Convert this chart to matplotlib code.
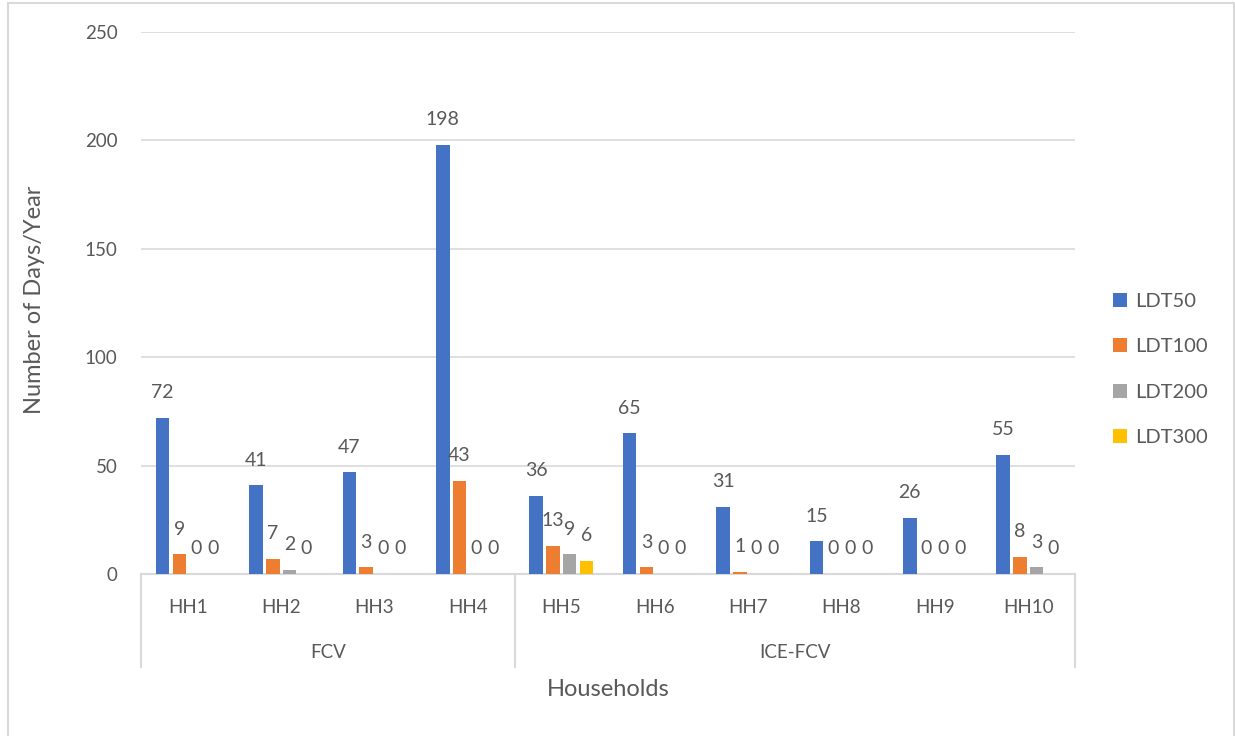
import numpy as np
import matplotlib.pyplot as plt
from matplotlib.patches import Rectangle, Patch

households = ['HH1', 'HH2', 'HH3', 'HH4', 'HH5', 'HH6', 'HH7', 'HH8', 'HH9', 'HH10']
groups = ['FCV', 'ICE-FCV']
group_sizes = [4, 6]

series_names = ['LDT50', 'LDT100', 'LDT200', 'LDT300']
ldt50 = [72, 41, 47, 198, 36, 65, 31, 15, 26, 55]
ldt100 = [9, 7, 3, 43, 13, 3, 1, 0, 0, 8]
ldt200 = [0, 2, 0, 0, 9, 0, 0, 0, 0, 3]
ldt300 = [0, 0, 0, 0, 6, 0, 0, 0, 0, 0]

colors = ['#4472C4', '#ED7D31', '#A5A5A5', '#FFC000']
text_color = '#595959'
line_color = '#D9D9D9'

plt.rcParams['font.family'] = ['Lato', 'DejaVu Sans']

W, H = 1235, 736
fig = plt.figure(figsize=(W / 100, H / 100), dpi=100)
ax = fig.add_axes([141 / W, 1 - 574 / H, (1075 - 141) / W, (574 - 32) / H])

# outer chart border
fig.patches.append(Rectangle((8 / W, -0.01), (1234 - 8) / W, 1 - 3 / H + 0.01,
                             transform=fig.transFigure, fill=False,
                             edgecolor=line_color, lw=1.5))

x = np.arange(len(households))
step = 0.179
width = 0.145
all_series = [ldt50, ldt100, ldt200, ldt300]
for k, (vals, name, c) in enumerate(zip(all_series, series_names, colors)):
    pos = x + (k - 1.5) * step
    ax.bar(pos, vals, width, color=c, label=name, zorder=3)
    for xp, v in zip(pos, vals):
        ax.annotate(str(v), (xp, v), xytext=(0, 18), textcoords='offset points',
                    ha='center', va='center', fontsize=14, color=text_color)

ax.set_xlim(-0.5, len(households) - 0.5)
ax.set_ylim(0, 250)
ax.set_yticks(range(0, 251, 50))
ax.grid(axis='y', color=line_color, lw=1.2, zorder=0)
for s in ['top', 'right', 'left']:
    ax.spines[s].set_visible(False)
ax.spines['bottom'].set_color(line_color)
ax.spines['bottom'].set_linewidth(1.5)
ax.tick_params(axis='y', length=0, pad=17, labelsize=13.5, labelcolor=text_color)
ax.set_xticks(x)
ax.set_xticklabels(households)
ax.tick_params(axis='x', length=0, pad=18, labelsize=13.5, labelcolor=text_color)

# two-level category axis: group separators and group names
trans = ax.get_xaxis_transform()
sep_bottom = -(667 - 574) / (574 - 32)
edges = np.concatenate([[0], np.cumsum(group_sizes)]) - 0.5
for e in edges:
    ax.plot([e, e], [0, sep_bottom], transform=trans, color=line_color,
            lw=1.5, clip_on=False)
for g, lo, hi in zip(groups, edges[:-1], edges[1:]):
    ax.text((lo + hi) / 2, -(653 - 574) / (574 - 32), g, transform=trans,
            ha='center', va='center', fontsize=13.5, color=text_color)

fig.text(608 / W, 1 - 689 / H, 'Households', ha='center', va='center',
         fontsize=17, color=text_color)
fig.text(35 / W, 1 - 300 / H, 'Number of Days/Year', ha='center', va='center',
         rotation=90, fontsize=17, color=text_color)

handles = [Patch(facecolor=c, label=n) for c, n in zip(colors, series_names)]
fig.legend(handles=handles, loc='center left', bbox_to_anchor=(1113 / W, 1 - 369.5 / H),
           frameon=False, fontsize=14.5, labelcolor=text_color, handlelength=0.7,
           handleheight=0.7, handletextpad=0.4, labelspacing=1.4,
           borderpad=0, borderaxespad=0)

fig.savefig('out.png', dpi=100)
